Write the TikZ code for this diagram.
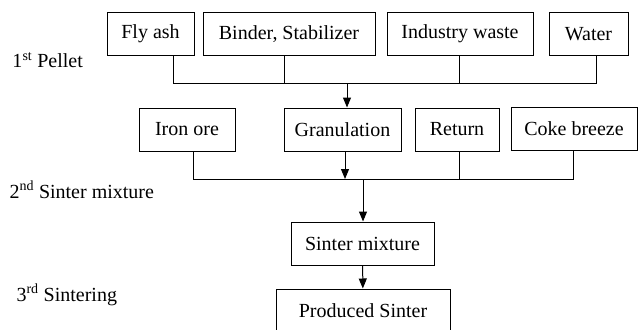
\documentclass[tikz,border=0pt]{standalone}
\usepackage{fontspec}
\setmainfont{Liberation Serif}
\newfontfamily\chartfont{Liberation Serif}
\usepackage{tikz}
\usetikzlibrary{arrows.meta}

\begin{document}
\begin{tikzpicture}[x=1pt, y=-1pt, line width=1pt,
    box/.style={draw, inner sep=0pt, minimum height=43pt, font=\chartfont\fontsize{20}{24}\selectfont},
    stage/.style={anchor=west, inner sep=0pt, font=\chartfont\fontsize{20}{24}\selectfont},
    arr/.style={-{Triangle[length=10pt,width=8pt]}}]
    \useasboundingbox (0,0) rectangle (639,329);
    \node[box, minimum width=87pt] (fly) at (150.5,34) {Fly ash};
    \node[box, minimum width=172pt] (binder) at (289,34) {Binder, Stabilizer};
    \node[box, minimum width=146pt] (waste) at (460,34) {Industry waste};
    \node[box, minimum width=79pt] (water) at (588.5,34) {Water};
    \node[box, minimum width=96pt] (iron) at (187,129.5) {Iron ore};
    \node[box, minimum width=117pt] (gran) at (342.5,129.5) {Granulation};
    \node[box, minimum width=84pt] (ret) at (457,129.5) {Return};
    \node[box, minimum width=126pt] (coke) at (574,128.5) {Coke breeze};
    \node[box, minimum width=143pt] (mix) at (362.5,243.5) {Sinter mixture};
    \node[box, minimum width=174pt] (prod) at (363,310.5) {Produced Sinter};
    \coordinate (join1) at (347,83);
    \coordinate (join2) at (363,179);
    \draw ([xshift=22.5pt]fly.south) |- (join1);
    \draw ([xshift=-5pt]binder.south) |- (join1);
    \draw ([xshift=-1pt]waste.south) |- (join1);
    \draw ([xshift=7.5pt]water.south) |- (join1);
    \draw[arr] (join1) -- (join1 |- gran.north);
    \draw ([xshift=6pt]iron.south) |- (join2);
    \draw[arr] ([xshift=2.5pt]gran.south) -- ([xshift=2.5pt]gran.south |- join2);
    \draw ([xshift=2pt]ret.south) |- (join2);
    \draw ([xshift=-1pt]coke.south) |- (join2);
    \draw[arr] (join2) -- (join2 |- mix.north);
    \draw[arr] (mix) -- (prod);
    \node[stage] (s1) at (12,60) {1\textsuperscript{st} Pellet};
    \node[stage] (s2) at (9,190) {2\textsuperscript{nd} Sinter mixture};
    \node[stage] (s3) at (16,295) {3\textsuperscript{rd} Sintering};
\end{tikzpicture}
\end{document}
